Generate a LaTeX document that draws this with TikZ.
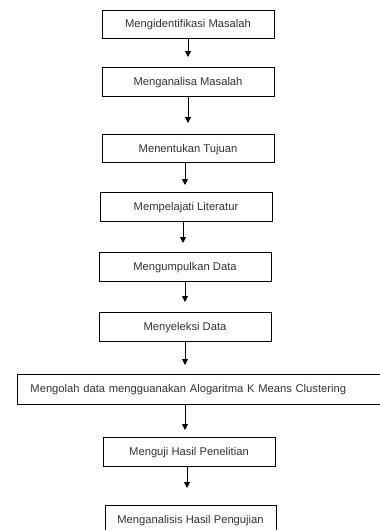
\documentclass[tikz,border=0pt]{standalone}
\usepackage{fontspec}
\setmainfont{Liberation Sans}
\usetikzlibrary{arrows.meta}
\definecolor{txt}{HTML}{333333}
\begin{document}
\begin{tikzpicture}[x=1pt,y=-1pt,
  box/.style={draw=black, line width=0.9pt, minimum width=172pt, minimum height=29pt, inner sep=0pt,
    text height=8pt, text depth=1pt,
    text=txt, font=\fontsize{11.2}{13}\selectfont},
  flow/.style={draw=black, line width=0.9pt, -{Triangle[length=6pt,width=6pt]}}]
\useasboundingbox (0,0) rectangle (380,530);
\node[box, minimum height=28pt] (b1) at (188,24) {Mengidentifikasi Masalah};
\node[box] (b2) at (188,81.5) {Menganalisa Masalah};
\node[box, minimum height=28pt] (b3) at (188,148.5) {Menentukan Tujuan};
\node[box] (b4) at (186,206.5) {Mempelajati Literatur};
\node[box] (b5) at (185,266.5) {Mengumpulkan Data};
\node[box] (b6) at (185,326.5) {Menyeleksi Data};
\node[box, anchor=west, minimum height=30pt, text width=337pt, align=left, inner xsep=13.5pt] (b7) at (16.5,389) {Mengolah data mengguanakan Alogaritma K Means Clustering};
\node[box] (b8) at (189,451.5) {Menguji Hasil Penelitian};
\node[box, minimum width=171pt] (b9) at (190.5,519.5) {Menganalisis Hasil Pengujian};
\coordinate (t1) at (188,57);
\coordinate (t2) at (188,123);
\coordinate (t3) at (185,185);
\coordinate (t4) at (183,243);
\coordinate (t5) at (185,302);
\coordinate (t6) at (185,365);
\coordinate (t7) at (185,430);
\coordinate (t8) at (187,488);
\draw[flow] (b1.south -| t1) -- (t1);
\draw[flow] (b2.south -| t2) -- (t2);
\draw[flow] (b3.south -| t3) -- (t3);
\draw[flow] (b4.south -| t4) -- (t4);
\draw[flow] (b5.south -| t5) -- (t5);
\draw[flow] (b6.south -| t6) -- (t6);
\draw[flow] (b7.south -| t7) -- (t7);
\draw[flow] (b8.south -| t8) -- (t8);
\end{tikzpicture}
\end{document}
